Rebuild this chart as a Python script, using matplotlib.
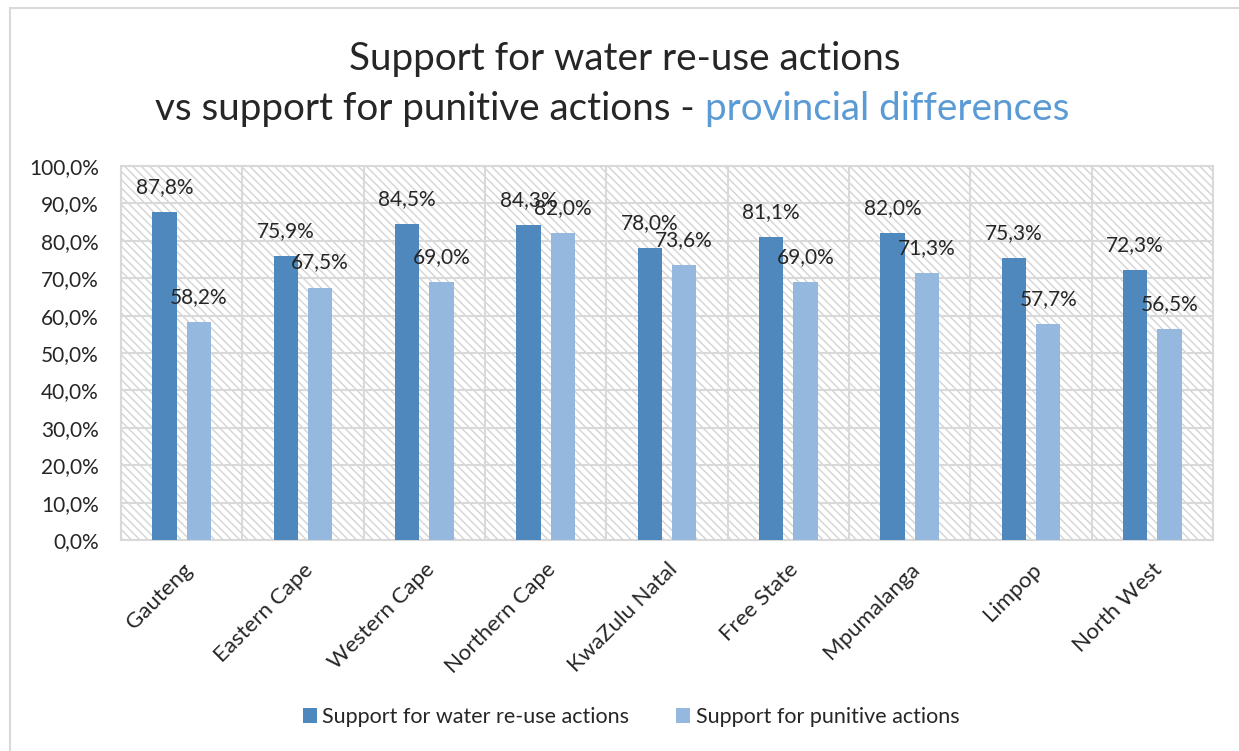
import numpy as np
import matplotlib
matplotlib.use("Agg")
import matplotlib.pyplot as plt
from matplotlib.patches import Rectangle

plt.rcParams['font.family'] = ['Lato', 'DejaVu Sans']
plt.rcParams['hatch.linewidth'] = 1.0

provinces = ["Gauteng", "Eastern Cape", "Western Cape", "Northern Cape", "KwaZulu Natal",
             "Free State", "Mpumalanga", "Limpop", "North West"]
reuse = [87.8, 75.9, 84.5, 84.3, 78.0, 81.1, 82.0, 75.3, 72.3]
punitive = [58.2, 67.5, 69.0, 82.0, 73.6, 69.0, 71.3, 57.7, 56.5]
series_names = ["Support for water re-use actions", "Support for punitive actions"]
yticks = np.arange(0, 101, 10)

dark = '#4f88bd'
light = '#95b8df'
grid_c = '#d9d9d9'
text_c = '#262626'

fig = plt.figure(figsize=(12.39, 7.51), dpi=100)
ax = fig.add_axes([121/1239, 1-540/751, 1092/1239, 374/751])

# hatched plot area background
bg = Rectangle((0, 0), 1, 1, transform=ax.transAxes, facecolor='white',
               edgecolor='#d4d4d4', hatch='\\\\\\\\', linewidth=0, zorder=0)
ax.add_patch(bg)

x = np.arange(len(provinces))
w = 0.2
off = 0.142
b1 = ax.bar(x - off, reuse, w, color=dark, zorder=3, label=series_names[0])
b2 = ax.bar(x + off, punitive, w, color=light, zorder=3, label=series_names[1])

for bars, vals in [(b1, reuse), (b2, punitive)]:
    for r, v in zip(bars, vals):
        ax.annotate(f"{v:.1f}%".replace('.', ','), (r.get_x() + r.get_width()/2, v),
                    xytext=(0, 18), textcoords='offset points', ha='center', va='center',
                    fontsize=15, color=text_c, zorder=4)

ax.set_xlim(-0.5, len(provinces) - 0.5)
ax.set_ylim(0, 100)
ax.set_yticks(yticks)
ax.set_yticklabels([f"{t:.1f}%".replace('.', ',') for t in yticks], fontsize=15, color=text_c)
ax.set_xticks(x)
ax.set_xticklabels(provinces, rotation=45, ha='right', rotation_mode='anchor',
                   fontsize=16, color=text_c)
ax.set_xticks(np.arange(-0.5, len(provinces), 1), minor=True)
ax.tick_params(axis='both', which='both', length=0)
ax.tick_params(axis='y', pad=16)
ax.tick_params(axis='x', pad=14)
ax.grid(axis='y', which='major', color=grid_c, lw=1.5, zorder=1)
ax.grid(axis='x', which='minor', color=grid_c, lw=1.5, zorder=1)
ax.set_axisbelow(True)
for s in ax.spines.values():
    s.set_color(grid_c)
    s.set_linewidth(1.5)
    s.set_zorder(2)

# outer chart border (left and top visible)
fig.patches.append(Rectangle((10/1239, -0.1), 1.2, 1.1 - 8/751, transform=fig.transFigure,
                             facecolor='none', edgecolor=grid_c, lw=1.5))

# title
fig.text(625/1239, 1-70/751, "Support for water re-use actions", ha='center', va='baseline',
         fontsize=27.8, color=text_c)
t2a = fig.text(0, 1-120/751, "vs support for punitive actions - ", ha='left', va='baseline',
               fontsize=27.8, color=text_c)
t2b = fig.text(0, 1-120/751, "provincial differences", ha='left', va='baseline',
               fontsize=27.8, color='#5b9bd5')
fig.canvas.draw()
r = fig.canvas.get_renderer()
wa = t2a.get_window_extent(r).width
wb = t2b.get_window_extent(r).width
start = 612 - (wa + wb) / 2
t2a.set_x(start / 1239)
t2b.set_x((start + wa) / 1239)

fig.legend(loc='center', bbox_to_anchor=(631/1239, 1-717/751), ncol=2, frameon=False,
           fontsize=15.5, handlelength=0.65, handleheight=0.65, handletextpad=0.25,
           columnspacing=2.2, labelcolor=text_c)

fig.savefig("out.png", dpi=100)
